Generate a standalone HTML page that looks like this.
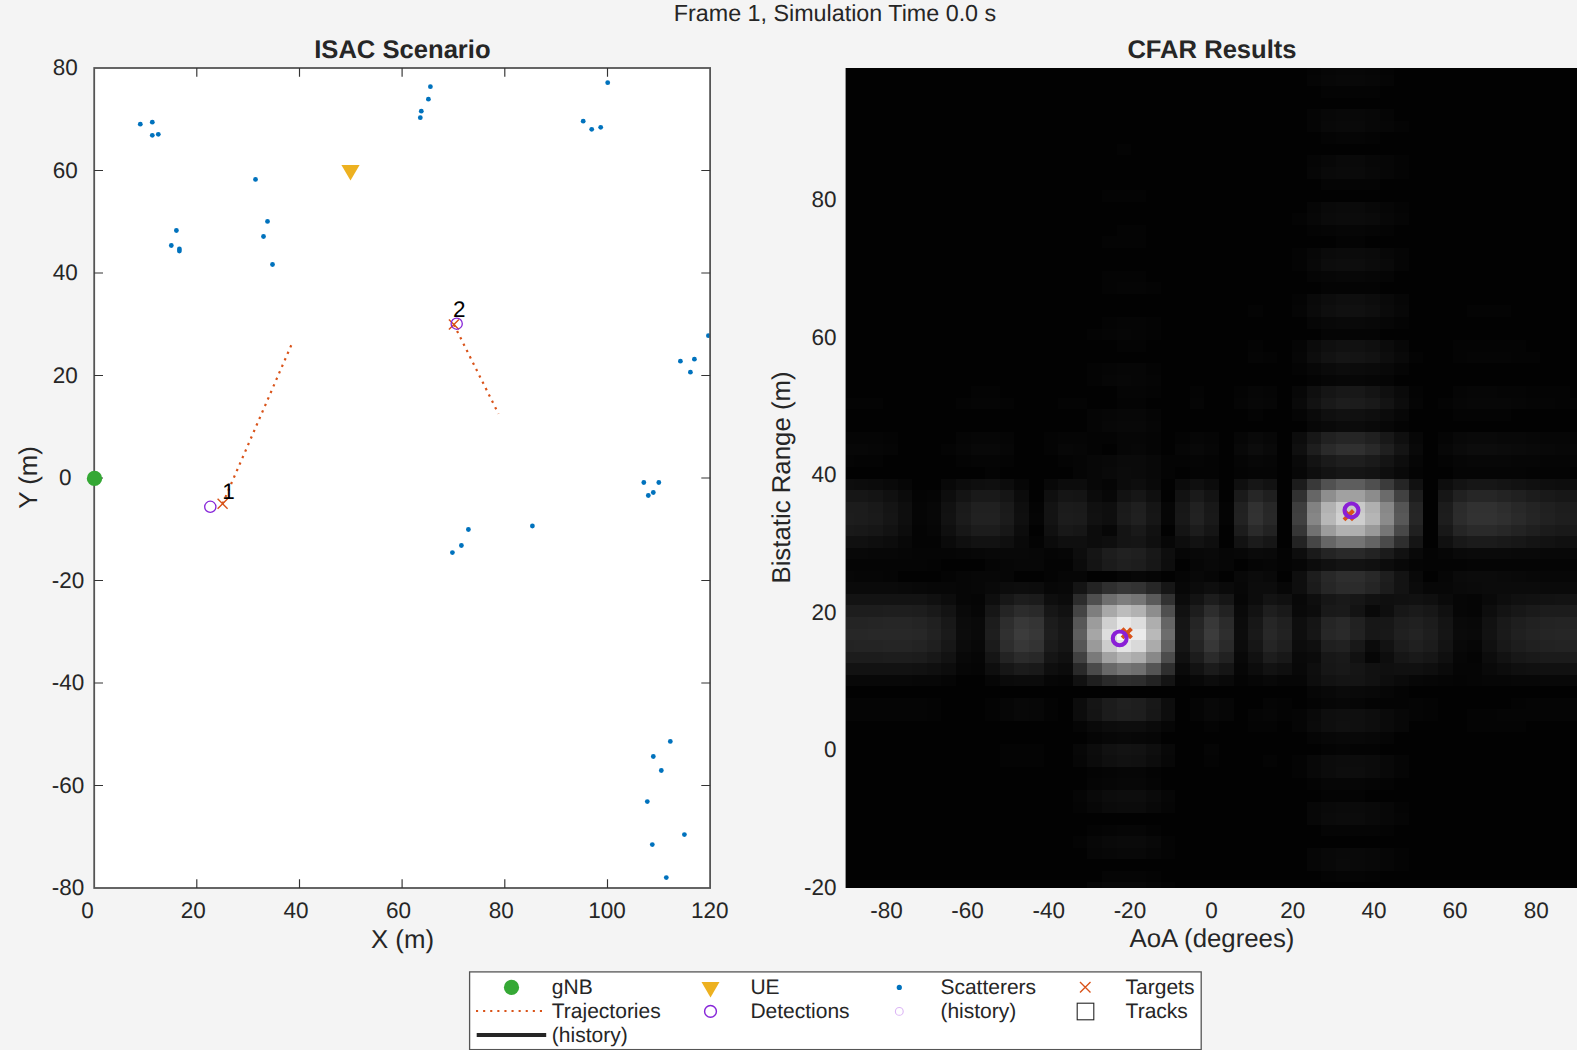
<!DOCTYPE html>
<html lang="en"><head><meta charset="utf-8"><title>ISAC Scenario - CFAR Results</title>
<style>html,body{margin:0;padding:0;background:#f4f4f4;overflow:hidden}svg{display:block}text{font-family:"Liberation Sans",sans-serif;fill:#262626;text-rendering:geometricPrecision}.tk{font-size:22.5px}.lb{font-size:25.8px}.tt{font-size:25.6px;font-weight:bold}.lg{font-size:21px}.sg{font-size:23.3px}.nm{font-size:22.5px;fill:#000}</style></head><body>
<svg width="1577" height="1050" viewBox="0 0 1577 1050">
<rect x="0" y="0" width="1577" height="1050" fill="#f4f4f4"/>
<text class="sg" x="835" y="20.6" text-anchor="middle">Frame 1, Simulation Time 0.0 s</text>
<rect x="94.2" y="68.0" width="615.9" height="820.0" fill="#ffffff"/>
<g fill="#0072bd">
<circle cx="140.3" cy="124.2" r="2.4"/>
<circle cx="152.3" cy="122.2" r="2.4"/>
<circle cx="152.3" cy="135.3" r="2.4"/>
<circle cx="158.3" cy="134.3" r="2.4"/>
<circle cx="176.4" cy="230.5" r="2.4"/>
<circle cx="171.3" cy="245.5" r="2.4"/>
<circle cx="179.4" cy="249.0" r="2.4"/>
<circle cx="179.4" cy="251.0" r="2.4"/>
<circle cx="255.5" cy="179.4" r="2.4"/>
<circle cx="267.5" cy="221.4" r="2.4"/>
<circle cx="263.5" cy="236.5" r="2.4"/>
<circle cx="272.5" cy="264.5" r="2.4"/>
<circle cx="430.4" cy="86.7" r="2.4"/>
<circle cx="428.4" cy="99.2" r="2.4"/>
<circle cx="421.3" cy="111.2" r="2.4"/>
<circle cx="420.3" cy="117.7" r="2.4"/>
<circle cx="607.7" cy="82.7" r="2.4"/>
<circle cx="583.2" cy="121.2" r="2.4"/>
<circle cx="591.7" cy="129.3" r="2.4"/>
<circle cx="600.7" cy="127.3" r="2.4"/>
<circle cx="708.4" cy="335.7" r="2.4"/>
<circle cx="680.4" cy="361.2" r="2.4"/>
<circle cx="694.4" cy="359.2" r="2.4"/>
<circle cx="690.4" cy="372.2" r="2.4"/>
<circle cx="643.8" cy="482.5" r="2.4"/>
<circle cx="658.8" cy="482.5" r="2.4"/>
<circle cx="653.3" cy="492.5" r="2.4"/>
<circle cx="648.3" cy="495.5" r="2.4"/>
<circle cx="532.4" cy="526.0" r="2.4"/>
<circle cx="468.4" cy="529.5" r="2.4"/>
<circle cx="461.4" cy="545.5" r="2.4"/>
<circle cx="452.4" cy="552.6" r="2.4"/>
<circle cx="670.3" cy="741.4" r="2.4"/>
<circle cx="653.3" cy="756.5" r="2.4"/>
<circle cx="661.3" cy="770.5" r="2.4"/>
<circle cx="647.3" cy="801.6" r="2.4"/>
<circle cx="684.4" cy="834.6" r="2.4"/>
<circle cx="652.3" cy="844.6" r="2.4"/>
<circle cx="666.3" cy="877.6" r="2.4"/>
</g>
<g stroke="#d95319" stroke-width="2.2" stroke-dasharray="2.3 4.8" fill="none">
<line x1="222.6" y1="503.7" x2="292.6" y2="342.1"/>
<line x1="453.9" y1="324.6" x2="498.5" y2="413.8"/>
</g>
<polygon points="341.4,165.0 359.6,165.0 350.5,180.5" fill="#edb120"/>
<path d="M217.6 498.7L227.6 508.7M217.6 508.7L227.6 498.7" stroke="#d95319" stroke-width="1.4" fill="none"/>
<path d="M448.9 319.6L458.9 329.6M448.9 329.6L458.9 319.6" stroke="#d95319" stroke-width="1.4" fill="none"/>
<circle cx="210.3" cy="506.8" r="5.6" fill="none" stroke="#8624d8" stroke-width="1.3"/>
<circle cx="456.7" cy="323.7" r="5.6" fill="none" stroke="#8624d8" stroke-width="1.3"/>
<text class="nm" x="222.3" y="498.7">1</text>
<text class="nm" x="453.0" y="317.3">2</text>
<g stroke="#555555" fill="none">
<rect x="94.2" y="68.0" width="615.9" height="820.0" stroke-width="1.8"/>
<path d="M196.8 888.0v-8.8M196.8 68.0v8.8M299.5 888.0v-8.8M299.5 68.0v8.8M402.1 888.0v-8.8M402.1 68.0v8.8M504.8 888.0v-8.8M504.8 68.0v8.8M607.5 888.0v-8.8M607.5 68.0v8.8M94.2 170.5h8.8M710.1 170.5h-8.8M94.2 273.0h8.8M710.1 273.0h-8.8M94.2 375.5h8.8M710.1 375.5h-8.8M94.2 478.0h8.8M710.1 478.0h-8.8M94.2 580.5h8.8M710.1 580.5h-8.8M94.2 683.0h8.8M710.1 683.0h-8.8M94.2 785.5h8.8M710.1 785.5h-8.8" stroke-width="1.15" stroke="#333"/>
</g>
<circle cx="94.5" cy="478.4" r="7.7" fill="#35a835"/>
<text class="tk" x="77.8" y="75.0" text-anchor="end">80</text>
<text class="tk" x="77.8" y="177.5" text-anchor="end">60</text>
<text class="tk" x="77.8" y="280.0" text-anchor="end">40</text>
<text class="tk" x="77.8" y="382.5" text-anchor="end">20</text>
<text class="tk" x="71.4" y="485.0" text-anchor="end">0</text>
<text class="tk" x="84.2" y="587.5" text-anchor="end">-20</text>
<text class="tk" x="84.2" y="690.0" text-anchor="end">-40</text>
<text class="tk" x="84.2" y="792.5" text-anchor="end">-60</text>
<text class="tk" x="84.2" y="895.0" text-anchor="end">-80</text>
<text class="tk" x="87.4" y="917.6" text-anchor="middle">0</text>
<text class="tk" x="193.2" y="917.6" text-anchor="middle">20</text>
<text class="tk" x="295.9" y="917.6" text-anchor="middle">40</text>
<text class="tk" x="398.6" y="917.6" text-anchor="middle">60</text>
<text class="tk" x="501.2" y="917.6" text-anchor="middle">80</text>
<text class="tk" x="607.1" y="917.6" text-anchor="middle">100</text>
<text class="tk" x="709.7" y="917.6" text-anchor="middle">120</text>
<text class="lb" x="402.5" y="947.6" text-anchor="middle">X (m)</text>
<text class="lb" transform="translate(37.3 477.5) rotate(-90)" text-anchor="middle">Y (m)</text>
<text class="tt" x="402.4" y="58.2" text-anchor="middle">ISAC Scenario</text>
<rect x="845.6" y="68.0" width="731.4" height="820.0" fill="#020202"/>
<g shape-rendering="crispEdges">
<path fill="#040404" d="M1160.5 882.3H1175.1V888.0H1160.5zM1145.9 870.7H1160.5V882.3H1145.9zM1321.2 870.7H1335.8V882.3H1321.2zM1365.0 870.7H1379.6V882.3H1365.0zM1394.2 859.2H1408.8V870.7H1394.2zM1160.5 847.7H1175.1V859.2H1160.5zM1394.2 847.7H1408.8V859.2H1394.2zM1072.8 836.1H1087.4V847.7H1072.8zM1160.5 836.1H1175.1V847.7H1160.5zM1087.4 824.6H1102.0V836.1H1087.4zM1145.9 824.6H1160.5V836.1H1145.9zM1379.6 824.6H1394.2V836.1H1379.6zM1072.8 801.5H1087.4V813.1H1072.8zM1394.2 801.5H1408.8V813.1H1394.2zM1321.2 790.0H1365.0V801.5H1321.2zM1306.6 778.4H1321.2V790.0H1306.6zM1379.6 778.4H1394.2V790.0H1379.6zM1087.4 766.9H1102.0V778.4H1087.4zM1145.9 766.9H1160.5V778.4H1145.9zM1291.9 766.9H1306.6V778.4H1291.9zM999.8 755.4H1043.6V766.9H999.8zM1204.3 755.4H1218.9V766.9H1204.3zM1262.7 755.4H1277.3V766.9H1262.7zM1291.9 755.4H1306.6V766.9H1291.9zM999.8 743.8H1043.6V755.4H999.8zM1321.2 743.8H1335.8V755.4H1321.2zM1350.4 743.8H1379.6V755.4H1350.4zM1204.3 720.8H1218.9V732.3H1204.3zM1248.1 720.8H1277.3V732.3H1248.1zM1467.3 720.8H1525.7V732.3H1467.3zM926.7 709.2H941.3V720.8H926.7zM985.2 709.2H999.8V720.8H985.2zM1043.6 709.2H1058.2V720.8H1043.6zM1277.3 709.2H1291.9V720.8H1277.3zM1423.4 709.2H1438.0V720.8H1423.4zM1467.3 709.2H1496.5V720.8H1467.3zM926.7 697.7H941.3V709.2H926.7zM985.2 697.7H999.8V709.2H985.2zM1043.6 697.7H1058.2V709.2H1043.6zM1277.3 697.7H1291.9V709.2H1277.3zM1306.6 697.7H1321.2V709.2H1306.6zM1365.0 697.7H1408.8V709.2H1365.0zM1423.4 697.7H1438.0V709.2H1423.4zM1511.1 697.7H1525.7V709.2H1511.1zM1394.2 686.1H1408.8V697.7H1394.2zM1233.5 674.6H1248.1V686.1H1233.5zM1452.6 674.6H1467.3V686.1H1452.6zM1467.3 651.5H1481.9V663.1H1467.3zM941.3 570.8H955.9V582.3H941.3zM1043.6 570.8H1058.2V582.3H1043.6zM926.7 559.2H941.3V570.8H926.7zM1043.6 559.2H1072.8V570.8H1043.6zM1277.3 559.2H1291.9V570.8H1277.3zM1423.4 559.2H1467.3V570.8H1423.4zM1277.3 547.7H1291.9V559.2H1277.3zM1423.4 547.7H1438.0V559.2H1423.4zM912.1 536.1H941.3V547.7H912.1zM1029.0 536.1H1043.6V547.7H1029.0zM912.1 524.6H926.7V536.1H912.1zM1218.9 513.1H1233.5V524.6H1218.9zM1029.0 501.5H1043.6V513.1H1029.0zM1218.9 501.5H1233.5V513.1H1218.9zM912.1 490.0H926.7V501.5H912.1zM985.2 466.9H999.8V478.5H985.2zM1160.5 466.9H1175.1V478.5H1160.5zM1189.7 466.9H1218.9V478.5H1189.7zM1233.5 466.9H1248.1V478.5H1233.5zM1408.8 466.9H1423.4V478.5H1408.8zM1525.7 466.9H1569.5V478.5H1525.7zM853.7 455.4H882.9V466.9H853.7zM955.9 455.4H970.6V466.9H955.9zM999.8 455.4H1014.4V466.9H999.8zM1058.2 455.4H1072.8V466.9H1058.2zM1160.5 455.4H1189.7V466.9H1160.5zM1204.3 455.4H1218.9V466.9H1204.3zM1438.0 455.4H1452.6V466.9H1438.0zM941.3 443.8H955.9V455.4H941.3zM1043.6 443.8H1058.2V455.4H1043.6zM1087.4 443.8H1102.0V455.4H1087.4zM882.9 432.3H897.5V443.8H882.9zM1043.6 432.3H1058.2V443.8H1043.6zM1087.4 432.3H1116.6V443.8H1087.4zM1175.1 432.3H1189.7V443.8H1175.1zM1394.2 420.8H1408.8V432.3H1394.2zM1248.1 409.2H1262.7V420.8H1248.1zM1452.6 409.2H1511.1V420.8H1452.6zM845.6 397.7H882.9V409.2H845.6zM955.9 397.7H970.6V409.2H955.9zM999.8 397.7H1014.4V409.2H999.8zM1058.2 397.7H1087.4V409.2H1058.2zM1116.6 397.7H1145.9V409.2H1116.6zM1438.0 397.7H1452.6V409.2H1438.0zM1554.9 397.7H1577.0V409.2H1554.9zM970.6 386.2H999.8V397.7H970.6zM1145.9 386.2H1160.5V397.7H1145.9zM1189.7 386.2H1204.3V397.7H1189.7zM1233.5 386.2H1248.1V397.7H1233.5zM1408.8 386.2H1423.4V397.7H1408.8zM1525.7 386.2H1569.5V397.7H1525.7zM1087.4 374.6H1102.0V386.2H1087.4zM1306.6 374.6H1321.2V386.2H1306.6zM1087.4 363.1H1102.0V374.6H1087.4zM1145.9 363.1H1160.5V374.6H1145.9zM1291.9 363.1H1306.6V374.6H1291.9zM1262.7 351.5H1277.3V363.1H1262.7zM1408.8 351.5H1423.4V363.1H1408.8zM1452.6 351.5H1467.3V363.1H1452.6zM1511.1 351.5H1540.3V363.1H1511.1zM1116.6 340.0H1145.9V351.5H1116.6zM1248.1 340.0H1262.7V351.5H1248.1zM1452.6 340.0H1525.7V351.5H1452.6zM1087.4 328.5H1102.0V340.0H1087.4zM1145.9 328.5H1160.5V340.0H1145.9zM1102.0 316.9H1116.6V328.5H1102.0zM1145.9 316.9H1160.5V328.5H1145.9zM1394.2 316.9H1408.8V328.5H1394.2zM1248.1 305.4H1262.7V316.9H1248.1zM1467.3 305.4H1511.1V316.9H1467.3zM1291.9 293.9H1306.6V305.4H1291.9zM1102.0 282.3H1116.6V293.9H1102.0zM1145.9 282.3H1160.5V293.9H1145.9zM1321.2 282.3H1379.6V293.9H1321.2zM1102.0 270.8H1145.9V282.3H1102.0zM1291.9 259.2H1306.6V270.8H1291.9zM1291.9 247.7H1306.6V259.2H1291.9zM1102.0 236.2H1145.9V247.7H1102.0zM1335.8 236.2H1365.0V247.7H1335.8zM1116.6 224.6H1145.9V236.2H1116.6zM1306.6 224.6H1321.2V236.2H1306.6zM1379.6 224.6H1394.2V236.2H1379.6zM1291.9 213.1H1306.6V224.6H1291.9zM1394.2 201.5H1408.8V213.1H1394.2zM1102.0 190.0H1145.9V201.5H1102.0zM1394.2 166.9H1408.8V178.5H1394.2zM1394.2 155.4H1408.8V166.9H1394.2zM1116.6 143.9H1131.3V155.4H1116.6zM1321.2 132.3H1335.8V143.9H1321.2zM1365.0 132.3H1379.6V143.9H1365.0zM1394.2 120.8H1408.8V132.3H1394.2zM1321.2 86.2H1379.6V97.7H1321.2zM1306.6 68.0H1321.2V74.6H1306.6zM1379.6 68.0H1394.2V74.6H1379.6z"/>
<path fill="#050505" d="M1102.0 870.7H1145.9V882.3H1102.0zM1335.8 870.7H1365.0V882.3H1335.8zM1102.0 824.6H1116.6V836.1H1102.0zM1321.2 824.6H1379.6V836.1H1321.2zM1394.2 813.1H1408.8V824.6H1394.2zM1160.5 801.5H1175.1V813.1H1160.5zM1072.8 790.0H1087.4V801.5H1072.8zM1087.4 778.4H1102.0V790.0H1087.4zM1145.9 778.4H1160.5V790.0H1145.9zM1365.0 778.4H1379.6V790.0H1365.0zM1102.0 766.9H1116.6V778.4H1102.0zM1394.2 766.9H1408.8V778.4H1394.2zM1394.2 755.4H1408.8V766.9H1394.2zM1204.3 743.8H1218.9V755.4H1204.3zM1335.8 743.8H1350.4V755.4H1335.8zM1087.4 732.3H1102.0V743.8H1087.4zM1306.6 732.3H1321.2V743.8H1306.6zM1379.6 732.3H1394.2V743.8H1379.6zM1072.8 720.8H1087.4V732.3H1072.8zM1291.9 720.8H1306.6V732.3H1291.9zM845.6 709.2H926.7V720.8H845.6zM1189.7 709.2H1204.3V720.8H1189.7zM1248.1 709.2H1262.7V720.8H1248.1zM1291.9 709.2H1306.6V720.8H1291.9zM1408.8 709.2H1423.4V720.8H1408.8zM1496.5 709.2H1577.0V720.8H1496.5zM845.6 697.7H926.7V709.2H845.6zM1189.7 697.7H1204.3V709.2H1189.7zM1262.7 697.7H1277.3V709.2H1262.7zM1408.8 697.7H1423.4V709.2H1408.8zM1525.7 697.7H1577.0V709.2H1525.7zM941.3 674.6H955.9V686.1H941.3zM1058.2 674.6H1072.8V686.1H1058.2zM1175.1 674.6H1189.7V686.1H1175.1zM1438.0 674.6H1452.6V686.1H1438.0zM1467.3 674.6H1481.9V686.1H1467.3zM970.6 663.1H985.2V674.6H970.6zM1452.6 663.1H1481.9V674.6H1452.6zM1467.3 605.4H1481.9V616.9H1467.3zM970.6 593.8H985.2V605.4H970.6zM1467.3 593.8H1481.9V605.4H1467.3zM882.9 570.8H897.5V582.3H882.9zM1116.6 570.8H1131.3V582.3H1116.6zM1145.9 570.8H1160.5V582.3H1145.9zM1175.1 570.8H1189.7V582.3H1175.1zM845.6 559.2H926.7V570.8H845.6zM985.2 559.2H999.8V570.8H985.2zM1248.1 559.2H1262.7V570.8H1248.1zM1408.8 559.2H1423.4V570.8H1408.8zM1467.3 559.2H1577.0V570.8H1467.3zM912.1 547.7H955.9V559.2H912.1zM1043.6 547.7H1058.2V559.2H1043.6zM912.1 513.1H926.7V524.6H912.1zM1029.0 513.1H1043.6V524.6H1029.0zM912.1 501.5H926.7V513.1H912.1zM926.7 490.0H941.3V501.5H926.7zM1102.0 478.5H1116.6V490.0H1102.0zM1072.8 466.9H1087.4V478.5H1072.8zM1248.1 466.9H1277.3V478.5H1248.1zM1452.6 466.9H1525.7V478.5H1452.6zM845.6 455.4H853.7V466.9H845.6zM970.6 455.4H999.8V466.9H970.6zM1072.8 455.4H1087.4V466.9H1072.8zM1189.7 455.4H1204.3V466.9H1189.7zM1233.5 455.4H1248.1V466.9H1233.5zM1540.3 455.4H1577.0V466.9H1540.3zM882.9 443.8H897.5V455.4H882.9zM1145.9 443.8H1160.5V455.4H1145.9zM845.6 432.3H882.9V443.8H845.6zM955.9 432.3H970.6V443.8H955.9zM999.8 432.3H1014.4V443.8H999.8zM1058.2 432.3H1087.4V443.8H1058.2zM1145.9 432.3H1160.5V443.8H1145.9zM1204.3 432.3H1218.9V443.8H1204.3zM1438.0 432.3H1452.6V443.8H1438.0zM1569.5 432.3H1577.0V443.8H1569.5zM1087.4 420.8H1102.0V432.3H1087.4zM1087.4 409.2H1102.0V420.8H1087.4zM1145.9 409.2H1160.5V420.8H1145.9zM1291.9 409.2H1306.6V420.8H1291.9zM970.6 397.7H999.8V409.2H970.6zM1189.7 397.7H1204.3V409.2H1189.7zM1233.5 397.7H1248.1V409.2H1233.5zM1408.8 397.7H1423.4V409.2H1408.8zM1525.7 397.7H1554.9V409.2H1525.7zM1116.6 386.2H1145.9V397.7H1116.6zM1262.7 386.2H1277.3V397.7H1262.7zM1452.6 386.2H1467.3V397.7H1452.6zM1496.5 386.2H1525.7V397.7H1496.5zM1145.9 374.6H1160.5V386.2H1145.9zM1379.6 374.6H1394.2V386.2H1379.6zM1102.0 363.1H1116.6V374.6H1102.0zM1394.2 363.1H1408.8V374.6H1394.2zM1248.1 351.5H1262.7V363.1H1248.1zM1467.3 351.5H1511.1V363.1H1467.3zM1291.9 340.0H1306.6V351.5H1291.9zM1102.0 328.5H1116.6V340.0H1102.0zM1131.3 328.5H1145.9V340.0H1131.3zM1321.2 328.5H1379.6V340.0H1321.2zM1116.6 316.9H1145.9V328.5H1116.6zM1291.9 305.4H1306.6V316.9H1291.9zM1116.6 282.3H1145.9V293.9H1116.6zM1306.6 270.8H1321.2V282.3H1306.6zM1379.6 270.8H1394.2V282.3H1379.6zM1394.2 259.2H1408.8V270.8H1394.2zM1394.2 247.7H1408.8V259.2H1394.2zM1321.2 224.6H1335.8V236.2H1321.2zM1365.0 224.6H1379.6V236.2H1365.0zM1394.2 213.1H1408.8V224.6H1394.2zM1321.2 178.5H1379.6V190.0H1321.2zM1306.6 155.4H1321.2V166.9H1306.6zM1335.8 132.3H1365.0V143.9H1335.8zM1306.6 120.8H1321.2V132.3H1306.6zM1306.6 109.2H1321.2V120.8H1306.6zM1379.6 109.2H1394.2V120.8H1379.6zM1306.6 74.6H1321.2V86.2H1306.6zM1379.6 74.6H1394.2V86.2H1379.6z"/>
<path fill="#060606" d="M1087.4 882.3H1102.0V888.0H1087.4zM1145.9 882.3H1160.5V888.0H1145.9zM1306.6 859.2H1321.2V870.7H1306.6zM1379.6 859.2H1394.2V870.7H1379.6zM1087.4 847.7H1102.0V859.2H1087.4zM1145.9 847.7H1160.5V859.2H1145.9zM1306.6 847.7H1321.2V859.2H1306.6zM1379.6 847.7H1394.2V859.2H1379.6zM1116.6 824.6H1145.9V836.1H1116.6zM1160.5 790.0H1175.1V801.5H1160.5zM1102.0 778.4H1116.6V790.0H1102.0zM1321.2 778.4H1365.0V790.0H1321.2zM1116.6 766.9H1145.9V778.4H1116.6zM1072.8 755.4H1087.4V766.9H1072.8zM1145.9 732.3H1160.5V743.8H1145.9zM1160.5 720.8H1175.1V732.3H1160.5zM999.8 709.2H1014.4V720.8H999.8zM1218.9 709.2H1233.5V720.8H1218.9zM1262.7 709.2H1277.3V720.8H1262.7zM999.8 697.7H1014.4V709.2H999.8zM1218.9 697.7H1233.5V709.2H1218.9zM1321.2 697.7H1335.8V709.2H1321.2zM1350.4 697.7H1365.0V709.2H1350.4zM1306.6 686.1H1321.2V697.7H1306.6zM1379.6 686.1H1394.2V697.7H1379.6zM985.2 674.6H999.8V686.1H985.2zM1043.6 674.6H1058.2V686.1H1043.6zM1248.1 674.6H1262.7V686.1H1248.1zM1277.3 674.6H1306.6V686.1H1277.3zM1423.4 674.6H1438.0V686.1H1423.4zM1481.9 674.6H1511.1V686.1H1481.9zM955.9 663.1H970.6V674.6H955.9zM1233.5 663.1H1248.1V674.6H1233.5zM970.6 651.5H985.2V663.1H970.6zM1365.0 651.5H1379.6V663.1H1365.0zM1452.6 651.5H1467.3V663.1H1452.6zM1467.3 640.0H1481.9V651.5H1467.3zM970.6 605.4H985.2V616.9H970.6zM1452.6 605.4H1467.3V616.9H1452.6zM955.9 593.8H970.6V605.4H955.9zM1233.5 593.8H1248.1V605.4H1233.5zM1452.6 593.8H1467.3V605.4H1452.6zM955.9 582.3H970.6V593.8H955.9zM853.7 570.8H882.9V582.3H853.7zM955.9 570.8H970.6V582.3H955.9zM999.8 570.8H1014.4V582.3H999.8zM1058.2 570.8H1087.4V582.3H1058.2zM1204.3 570.8H1218.9V582.3H1204.3zM1438.0 570.8H1452.6V582.3H1438.0zM999.8 559.2H1014.4V570.8H999.8zM1189.7 559.2H1204.3V570.8H1189.7zM1218.9 559.2H1233.5V570.8H1218.9zM1262.7 559.2H1277.3V570.8H1262.7zM1291.9 559.2H1306.6V570.8H1291.9zM897.5 547.7H912.1V559.2H897.5zM955.9 547.7H970.6V559.2H955.9zM1058.2 547.7H1072.8V559.2H1058.2zM1175.1 547.7H1189.7V559.2H1175.1zM1218.9 547.7H1233.5V559.2H1218.9zM1438.0 547.7H1452.6V559.2H1438.0zM926.7 524.6H941.3V536.1H926.7zM1160.5 513.1H1175.1V524.6H1160.5zM1160.5 501.5H1175.1V513.1H1160.5zM897.5 478.5H912.1V490.0H897.5zM1014.4 478.5H1029.0V490.0H1014.4zM1262.7 455.4H1277.3V466.9H1262.7zM1408.8 455.4H1423.4V466.9H1408.8zM1452.6 455.4H1467.3V466.9H1452.6zM1511.1 455.4H1540.3V466.9H1511.1zM868.3 443.8H882.9V455.4H868.3zM955.9 443.8H970.6V455.4H955.9zM999.8 443.8H1014.4V455.4H999.8zM1072.8 443.8H1087.4V455.4H1072.8zM1116.6 443.8H1131.3V455.4H1116.6zM1175.1 443.8H1189.7V455.4H1175.1zM1204.3 443.8H1218.9V455.4H1204.3zM970.6 432.3H999.8V443.8H970.6zM1116.6 432.3H1145.9V443.8H1116.6zM1189.7 432.3H1204.3V443.8H1189.7zM1233.5 432.3H1248.1V443.8H1233.5zM1540.3 432.3H1569.5V443.8H1540.3zM1145.9 420.8H1160.5V432.3H1145.9zM1102.0 409.2H1116.6V420.8H1102.0zM1262.7 397.7H1277.3V409.2H1262.7zM1452.6 397.7H1467.3V409.2H1452.6zM1511.1 397.7H1525.7V409.2H1511.1zM1248.1 386.2H1262.7V397.7H1248.1zM1467.3 386.2H1496.5V397.7H1467.3zM1102.0 374.6H1116.6V386.2H1102.0zM1131.3 374.6H1145.9V386.2H1131.3zM1321.2 374.6H1335.8V386.2H1321.2zM1365.0 374.6H1379.6V386.2H1365.0zM1116.6 363.1H1145.9V374.6H1116.6zM1291.9 351.5H1306.6V363.1H1291.9zM1116.6 328.5H1131.3V340.0H1116.6zM1306.6 316.9H1321.2V328.5H1306.6zM1379.6 316.9H1394.2V328.5H1379.6zM1394.2 293.9H1408.8V305.4H1394.2zM1321.2 270.8H1335.8V282.3H1321.2zM1365.0 270.8H1379.6V282.3H1365.0zM1335.8 224.6H1365.0V236.2H1335.8zM1306.6 201.5H1321.2V213.1H1306.6zM1379.6 201.5H1394.2V213.1H1379.6zM1306.6 166.9H1321.2V178.5H1306.6zM1379.6 166.9H1394.2V178.5H1379.6zM1379.6 155.4H1394.2V166.9H1379.6zM1379.6 120.8H1394.2V132.3H1379.6zM1321.2 68.0H1335.8V74.6H1321.2zM1365.0 68.0H1379.6V74.6H1365.0z"/>
<path fill="#070707" d="M1102.0 847.7H1116.6V859.2H1102.0zM1087.4 836.1H1102.0V847.7H1087.4zM1306.6 813.1H1321.2V824.6H1306.6zM1379.6 813.1H1394.2V824.6H1379.6zM1087.4 801.5H1102.0V813.1H1087.4zM1306.6 801.5H1321.2V813.1H1306.6zM1379.6 801.5H1394.2V813.1H1379.6zM1116.6 778.4H1145.9V790.0H1116.6zM1160.5 755.4H1175.1V766.9H1160.5zM1072.8 743.8H1087.4V755.4H1072.8zM1102.0 732.3H1116.6V743.8H1102.0zM1131.3 732.3H1145.9V743.8H1131.3zM1321.2 732.3H1335.8V743.8H1321.2zM1365.0 732.3H1379.6V743.8H1365.0zM1394.2 720.8H1408.8V732.3H1394.2zM1029.0 709.2H1043.6V720.8H1029.0zM1394.2 709.2H1408.8V720.8H1394.2zM1029.0 697.7H1043.6V709.2H1029.0zM1335.8 697.7H1350.4V709.2H1335.8zM912.1 674.6H941.3V686.1H912.1zM1408.8 674.6H1423.4V686.1H1408.8zM1511.1 674.6H1540.3V686.1H1511.1zM926.7 582.3H955.9V593.8H926.7zM970.6 582.3H985.2V593.8H970.6zM1043.6 582.3H1058.2V593.8H1043.6zM1175.1 582.3H1189.7V593.8H1175.1zM1233.5 582.3H1248.1V593.8H1233.5zM1277.3 582.3H1291.9V593.8H1277.3zM1423.4 582.3H1452.6V593.8H1423.4zM845.6 570.8H853.7V582.3H845.6zM970.6 570.8H999.8V582.3H970.6zM1131.3 570.8H1145.9V582.3H1131.3zM1540.3 570.8H1577.0V582.3H1540.3zM1014.4 559.2H1043.6V570.8H1014.4zM868.3 547.7H897.5V559.2H868.3zM970.6 547.7H985.2V559.2H970.6zM1029.0 547.7H1043.6V559.2H1029.0zM1233.5 547.7H1248.1V559.2H1233.5zM1160.5 536.1H1175.1V547.7H1160.5zM1102.0 524.6H1116.6V536.1H1102.0zM926.7 513.1H941.3V524.6H926.7zM926.7 501.5H941.3V513.1H926.7zM1102.0 490.0H1116.6V501.5H1102.0zM1087.4 478.5H1102.0V490.0H1087.4zM1087.4 466.9H1102.0V478.5H1087.4zM1291.9 466.9H1306.6V478.5H1291.9zM1087.4 455.4H1102.0V466.9H1087.4zM1248.1 455.4H1262.7V466.9H1248.1zM1467.3 455.4H1511.1V466.9H1467.3zM845.6 443.8H868.3V455.4H845.6zM1058.2 443.8H1072.8V455.4H1058.2zM1131.3 443.8H1145.9V455.4H1131.3zM1438.0 443.8H1452.6V455.4H1438.0zM1554.9 443.8H1577.0V455.4H1554.9zM1262.7 432.3H1277.3V443.8H1262.7zM1408.8 432.3H1423.4V443.8H1408.8zM1525.7 432.3H1540.3V443.8H1525.7zM1102.0 420.8H1116.6V432.3H1102.0zM1306.6 420.8H1321.2V432.3H1306.6zM1379.6 420.8H1394.2V432.3H1379.6zM1116.6 409.2H1145.9V420.8H1116.6zM1394.2 409.2H1408.8V420.8H1394.2zM1248.1 397.7H1262.7V409.2H1248.1zM1467.3 397.7H1511.1V409.2H1467.3zM1291.9 386.2H1306.6V397.7H1291.9zM1116.6 374.6H1131.3V386.2H1116.6zM1335.8 374.6H1365.0V386.2H1335.8zM1306.6 363.1H1321.2V374.6H1306.6zM1394.2 340.0H1408.8V351.5H1394.2zM1394.2 305.4H1408.8V316.9H1394.2zM1335.8 270.8H1365.0V282.3H1335.8zM1306.6 247.7H1321.2V259.2H1306.6zM1379.6 247.7H1394.2V259.2H1379.6zM1306.6 213.1H1321.2V224.6H1306.6zM1379.6 213.1H1394.2V224.6H1379.6zM1321.2 155.4H1335.8V166.9H1321.2zM1365.0 155.4H1379.6V166.9H1365.0zM1365.0 120.8H1379.6V132.3H1365.0zM1321.2 109.2H1335.8V120.8H1321.2zM1365.0 109.2H1379.6V120.8H1365.0zM1321.2 74.6H1335.8V86.2H1321.2zM1365.0 74.6H1379.6V86.2H1365.0zM1335.8 68.0H1365.0V74.6H1335.8z"/>
<path fill="#080808" d="M1102.0 882.3H1145.9V888.0H1102.0zM1321.2 859.2H1335.8V870.7H1321.2zM1365.0 859.2H1379.6V870.7H1365.0zM1116.6 847.7H1145.9V859.2H1116.6zM1321.2 847.7H1335.8V859.2H1321.2zM1365.0 847.7H1379.6V859.2H1365.0zM1145.9 836.1H1160.5V847.7H1145.9zM1145.9 801.5H1160.5V813.1H1145.9zM1306.6 766.9H1321.2V778.4H1306.6zM1379.6 766.9H1394.2V778.4H1379.6zM1306.6 755.4H1321.2V766.9H1306.6zM1379.6 755.4H1394.2V766.9H1379.6zM1160.5 743.8H1175.1V755.4H1160.5zM1116.6 732.3H1131.3V743.8H1116.6zM1335.8 732.3H1365.0V743.8H1335.8zM1014.4 709.2H1029.0V720.8H1014.4zM1204.3 709.2H1218.9V720.8H1204.3zM1014.4 697.7H1029.0V709.2H1014.4zM1204.3 697.7H1218.9V709.2H1204.3zM1321.2 686.1H1335.8V697.7H1321.2zM1365.0 686.1H1379.6V697.7H1365.0zM845.6 674.6H912.1V686.1H845.6zM1189.7 674.6H1204.3V686.1H1189.7zM1262.7 674.6H1277.3V686.1H1262.7zM1540.3 674.6H1577.0V686.1H1540.3zM1291.9 663.1H1306.6V674.6H1291.9zM955.9 651.5H970.6V663.1H955.9zM1233.5 651.5H1248.1V663.1H1233.5zM970.6 640.0H985.2V651.5H970.6zM1452.6 640.0H1467.3V651.5H1452.6zM1467.3 616.9H1481.9V628.5H1467.3zM1291.9 593.8H1306.6V605.4H1291.9zM912.1 582.3H926.7V593.8H912.1zM1058.2 582.3H1072.8V593.8H1058.2zM1189.7 570.8H1204.3V582.3H1189.7zM1233.5 570.8H1248.1V582.3H1233.5zM1525.7 570.8H1540.3V582.3H1525.7zM1204.3 559.2H1218.9V570.8H1204.3zM1394.2 559.2H1408.8V570.8H1394.2zM845.6 547.7H868.3V559.2H845.6zM985.2 547.7H1029.0V559.2H985.2zM1189.7 547.7H1204.3V559.2H1189.7zM1540.3 547.7H1577.0V559.2H1540.3zM897.5 536.1H912.1V547.7H897.5zM941.3 478.5H955.9V490.0H941.3zM1043.6 478.5H1058.2V490.0H1043.6zM1145.9 466.9H1160.5V478.5H1145.9zM1102.0 455.4H1116.6V466.9H1102.0zM1145.9 455.4H1160.5V466.9H1145.9zM970.6 443.8H999.8V455.4H970.6zM1189.7 443.8H1204.3V455.4H1189.7zM1233.5 443.8H1248.1V455.4H1233.5zM1540.3 443.8H1554.9V455.4H1540.3zM1452.6 432.3H1467.3V443.8H1452.6zM1496.5 432.3H1525.7V443.8H1496.5zM1116.6 420.8H1145.9V432.3H1116.6zM1379.6 363.1H1394.2V374.6H1379.6zM1321.2 316.9H1335.8V328.5H1321.2zM1365.0 316.9H1379.6V328.5H1365.0zM1306.6 259.2H1321.2V270.8H1306.6zM1365.0 201.5H1379.6V213.1H1365.0zM1365.0 166.9H1379.6V178.5H1365.0zM1321.2 120.8H1335.8V132.3H1321.2zM1335.8 109.2H1365.0V120.8H1335.8zM1335.8 74.6H1365.0V86.2H1335.8z"/>
<path fill="#090909" d="M1350.4 859.2H1365.0V870.7H1350.4zM1335.8 847.7H1365.0V859.2H1335.8zM1102.0 836.1H1116.6V847.7H1102.0zM1365.0 813.1H1379.6V824.6H1365.0zM1321.2 801.5H1335.8V813.1H1321.2zM1365.0 801.5H1379.6V813.1H1365.0zM1087.4 790.0H1102.0V801.5H1087.4zM1087.4 720.8H1102.0V732.3H1087.4zM1306.6 709.2H1321.2V720.8H1306.6zM1350.4 686.1H1365.0V697.7H1350.4zM1218.9 674.6H1233.5V686.1H1218.9zM1481.9 663.1H1496.5V674.6H1481.9zM1291.9 651.5H1306.6V663.1H1291.9zM970.6 628.5H985.2V640.0H970.6zM1467.3 628.5H1481.9V640.0H1467.3zM970.6 616.9H985.2V628.5H970.6zM1452.6 616.9H1467.3V628.5H1452.6zM955.9 605.4H970.6V616.9H955.9zM1233.5 605.4H1248.1V616.9H1233.5zM1291.9 605.4H1306.6V616.9H1291.9zM1365.0 605.4H1379.6V616.9H1365.0zM1481.9 593.8H1496.5V605.4H1481.9zM897.5 582.3H912.1V593.8H897.5zM985.2 582.3H999.8V593.8H985.2zM1452.6 582.3H1467.3V593.8H1452.6zM1262.7 570.8H1277.3V582.3H1262.7zM1408.8 570.8H1423.4V582.3H1408.8zM1511.1 570.8H1525.7V582.3H1511.1zM1204.3 547.7H1218.9V559.2H1204.3zM1262.7 547.7H1277.3V559.2H1262.7zM1408.8 547.7H1423.4V559.2H1408.8zM1452.6 547.7H1467.3V559.2H1452.6zM1511.1 547.7H1540.3V559.2H1511.1zM1014.4 536.1H1029.0V547.7H1014.4zM882.9 478.5H897.5V490.0H882.9zM1145.9 478.5H1160.5V490.0H1145.9zM1102.0 466.9H1116.6V478.5H1102.0zM1394.2 466.9H1408.8V478.5H1394.2zM1291.9 455.4H1306.6V466.9H1291.9zM1262.7 443.8H1277.3V455.4H1262.7zM1408.8 443.8H1423.4V455.4H1408.8zM1525.7 443.8H1540.3V455.4H1525.7zM1248.1 432.3H1262.7V443.8H1248.1zM1467.3 432.3H1496.5V443.8H1467.3zM1321.2 420.8H1335.8V432.3H1321.2zM1365.0 420.8H1379.6V432.3H1365.0zM1291.9 397.7H1306.6V409.2H1291.9zM1394.2 351.5H1408.8V363.1H1394.2zM1335.8 316.9H1365.0V328.5H1335.8zM1306.6 293.9H1321.2V305.4H1306.6zM1379.6 293.9H1394.2V305.4H1379.6zM1379.6 259.2H1394.2V270.8H1379.6zM1321.2 201.5H1335.8V213.1H1321.2zM1321.2 166.9H1335.8V178.5H1321.2zM1335.8 155.4H1365.0V166.9H1335.8zM1335.8 120.8H1365.0V132.3H1335.8z"/>
<path fill="#0a0a0a" d="M1335.8 859.2H1350.4V870.7H1335.8zM1116.6 836.1H1145.9V847.7H1116.6zM1321.2 813.1H1335.8V824.6H1321.2zM1102.0 801.5H1116.6V813.1H1102.0zM1335.8 801.5H1365.0V813.1H1335.8zM1145.9 790.0H1160.5V801.5H1145.9zM1145.9 720.8H1160.5V732.3H1145.9zM1306.6 720.8H1321.2V732.3H1306.6zM1379.6 720.8H1394.2V732.3H1379.6zM1379.6 709.2H1394.2V720.8H1379.6zM1335.8 686.1H1350.4V697.7H1335.8zM999.8 674.6H1014.4V686.1H999.8zM1394.2 674.6H1408.8V686.1H1394.2zM1175.1 663.1H1189.7V674.6H1175.1zM1438.0 663.1H1452.6V674.6H1438.0zM1452.6 628.5H1467.3V640.0H1452.6zM1438.0 593.8H1452.6V605.4H1438.0zM845.6 582.3H897.5V593.8H845.6zM1218.9 582.3H1233.5V593.8H1218.9zM1467.3 582.3H1481.9V593.8H1467.3zM1540.3 582.3H1577.0V593.8H1540.3zM1452.6 570.8H1467.3V582.3H1452.6zM1496.5 570.8H1511.1V582.3H1496.5zM1248.1 547.7H1262.7V559.2H1248.1zM1467.3 547.7H1511.1V559.2H1467.3zM941.3 536.1H955.9V547.7H941.3zM1131.3 466.9H1145.9V478.5H1131.3zM1116.6 455.4H1145.9V466.9H1116.6zM1452.6 443.8H1467.3V455.4H1452.6zM1511.1 443.8H1525.7V455.4H1511.1zM1306.6 409.2H1321.2V420.8H1306.6zM1394.2 386.2H1408.8V397.7H1394.2zM1321.2 363.1H1335.8V374.6H1321.2zM1365.0 363.1H1379.6V374.6H1365.0zM1306.6 305.4H1321.2V316.9H1306.6zM1379.6 305.4H1394.2V316.9H1379.6zM1321.2 247.7H1335.8V259.2H1321.2zM1365.0 247.7H1379.6V259.2H1365.0zM1321.2 213.1H1335.8V224.6H1321.2zM1365.0 213.1H1379.6V224.6H1365.0zM1335.8 201.5H1365.0V213.1H1335.8zM1335.8 166.9H1365.0V178.5H1335.8z"/>
<path fill="#0b0b0b" d="M1335.8 813.1H1365.0V824.6H1335.8zM1116.6 801.5H1145.9V813.1H1116.6zM1321.2 766.9H1335.8V778.4H1321.2zM1365.0 766.9H1379.6V778.4H1365.0zM1087.4 755.4H1102.0V766.9H1087.4zM1321.2 755.4H1335.8V766.9H1321.2zM1365.0 755.4H1379.6V766.9H1365.0zM1014.4 674.6H1043.6V686.1H1014.4zM1058.2 663.1H1072.8V674.6H1058.2zM1306.6 651.5H1321.2V663.1H1306.6zM955.9 640.0H970.6V651.5H955.9zM1233.5 640.0H1248.1V651.5H1233.5zM1365.0 640.0H1379.6V651.5H1365.0zM955.9 616.9H970.6V628.5H955.9zM1233.5 616.9H1248.1V628.5H1233.5zM1058.2 593.8H1072.8V605.4H1058.2zM1175.1 593.8H1189.7V605.4H1175.1zM1189.7 582.3H1204.3V593.8H1189.7zM1408.8 582.3H1423.4V593.8H1408.8zM1481.9 582.3H1540.3V593.8H1481.9zM1248.1 570.8H1262.7V582.3H1248.1zM1467.3 570.8H1496.5V582.3H1467.3zM1072.8 559.2H1087.4V570.8H1072.8zM1043.6 536.1H1058.2V547.7H1043.6zM897.5 490.0H912.1V501.5H897.5zM1014.4 490.0H1029.0V501.5H1014.4zM1087.4 490.0H1102.0V501.5H1087.4zM868.3 478.5H882.9V490.0H868.3zM1116.6 478.5H1131.3V490.0H1116.6zM1175.1 478.5H1189.7V490.0H1175.1zM1204.3 478.5H1218.9V490.0H1204.3zM1116.6 466.9H1131.3V478.5H1116.6zM1496.5 443.8H1511.1V455.4H1496.5zM1335.8 420.8H1365.0V432.3H1335.8zM1379.6 409.2H1394.2V420.8H1379.6zM1350.4 363.1H1365.0V374.6H1350.4zM1306.6 340.0H1321.2V351.5H1306.6zM1379.6 340.0H1394.2V351.5H1379.6zM1365.0 259.2H1379.6V270.8H1365.0zM1335.8 247.7H1365.0V259.2H1335.8zM1335.8 213.1H1365.0V224.6H1335.8z"/>
<path fill="#0c0c0c" d="M1102.0 790.0H1116.6V801.5H1102.0zM1145.9 755.4H1160.5V766.9H1145.9zM1335.8 755.4H1365.0V766.9H1335.8zM1087.4 743.8H1102.0V755.4H1087.4zM1102.0 720.8H1116.6V732.3H1102.0zM1072.8 709.2H1087.4V720.8H1072.8zM1072.8 697.7H1087.4V709.2H1072.8zM1204.3 674.6H1218.9V686.1H1204.3zM941.3 663.1H955.9V674.6H941.3zM1248.1 663.1H1262.7V674.6H1248.1zM1496.5 663.1H1511.1V674.6H1496.5zM1481.9 651.5H1496.5V663.1H1481.9zM1291.9 640.0H1306.6V651.5H1291.9zM955.9 628.5H970.6V640.0H955.9zM1233.5 628.5H1248.1V640.0H1233.5zM1306.6 605.4H1321.2V616.9H1306.6zM941.3 593.8H955.9V605.4H941.3zM1248.1 593.8H1262.7V605.4H1248.1zM999.8 582.3H1014.4V593.8H999.8zM1029.0 582.3H1043.6V593.8H1029.0zM1248.1 582.3H1277.3V593.8H1248.1zM1306.6 559.2H1321.2V570.8H1306.6zM1379.6 559.2H1394.2V570.8H1379.6zM882.9 536.1H897.5V547.7H882.9zM1087.4 536.1H1102.0V547.7H1087.4zM897.5 524.6H912.1V536.1H897.5zM1014.4 524.6H1029.0V536.1H1014.4zM1087.4 524.6H1102.0V536.1H1087.4zM853.7 478.5H868.3V490.0H853.7zM955.9 478.5H970.6V490.0H955.9zM999.8 478.5H1014.4V490.0H999.8zM1058.2 478.5H1087.4V490.0H1058.2zM1248.1 443.8H1262.7V455.4H1248.1zM1467.3 443.8H1496.5V455.4H1467.3zM1291.9 432.3H1306.6V443.8H1291.9zM1394.2 397.7H1408.8V409.2H1394.2zM1335.8 363.1H1350.4V374.6H1335.8zM1321.2 293.9H1335.8V305.4H1321.2zM1365.0 293.9H1379.6V305.4H1365.0zM1321.2 259.2H1335.8V270.8H1321.2z"/>
<path fill="#0d0d0d" d="M1116.6 790.0H1145.9V801.5H1116.6zM1335.8 766.9H1365.0V778.4H1335.8zM1116.6 720.8H1145.9V732.3H1116.6zM1365.0 720.8H1379.6V732.3H1365.0zM1160.5 709.2H1175.1V720.8H1160.5zM1365.0 709.2H1379.6V720.8H1365.0zM1160.5 697.7H1175.1V709.2H1160.5zM1306.6 674.6H1321.2V686.1H1306.6zM1379.6 674.6H1394.2V686.1H1379.6zM1379.6 651.5H1394.2V663.1H1379.6zM1481.9 605.4H1496.5V616.9H1481.9zM1496.5 593.8H1511.1V605.4H1496.5zM1014.4 582.3H1029.0V593.8H1014.4zM1160.5 559.2H1175.1V570.8H1160.5zM1072.8 547.7H1087.4V559.2H1072.8zM1291.9 547.7H1306.6V559.2H1291.9zM1175.1 536.1H1189.7V547.7H1175.1zM941.3 490.0H955.9V501.5H941.3zM845.6 478.5H853.7V490.0H845.6zM1131.3 478.5H1145.9V490.0H1131.3zM1438.0 478.5H1452.6V490.0H1438.0zM1554.9 478.5H1577.0V490.0H1554.9zM1394.2 455.4H1408.8V466.9H1394.2zM1306.6 351.5H1321.2V363.1H1306.6zM1379.6 351.5H1394.2V363.1H1379.6zM1335.8 259.2H1365.0V270.8H1335.8z"/>
<path fill="#0e0e0e" d="M1145.9 743.8H1160.5V755.4H1145.9zM1321.2 720.8H1335.8V732.3H1321.2zM1321.2 709.2H1335.8V720.8H1321.2zM985.2 663.1H999.8V674.6H985.2zM1043.6 663.1H1058.2V674.6H1043.6zM1306.6 663.1H1321.2V674.6H1306.6zM1423.4 663.1H1438.0V674.6H1423.4zM1291.9 628.5H1306.6V640.0H1291.9zM1291.9 616.9H1306.6V628.5H1291.9zM1379.6 605.4H1394.2V616.9H1379.6zM985.2 593.8H999.8V605.4H985.2zM1043.6 593.8H1058.2V605.4H1043.6zM1306.6 593.8H1321.2V605.4H1306.6zM1204.3 582.3H1218.9V593.8H1204.3zM1291.9 582.3H1306.6V593.8H1291.9zM1291.9 570.8H1306.6V582.3H1291.9zM1160.5 547.7H1175.1V559.2H1160.5zM868.3 536.1H882.9V547.7H868.3zM1102.0 536.1H1116.6V547.7H1102.0zM1204.3 536.1H1218.9V547.7H1204.3zM897.5 513.1H912.1V524.6H897.5zM1102.0 513.1H1116.6V524.6H1102.0zM897.5 501.5H912.1V513.1H897.5zM1014.4 501.5H1029.0V513.1H1014.4zM1102.0 501.5H1116.6V513.1H1102.0zM970.6 478.5H985.2V490.0H970.6zM1540.3 478.5H1554.9V490.0H1540.3zM1306.6 466.9H1321.2V478.5H1306.6zM1379.6 466.9H1394.2V478.5H1379.6zM1365.0 409.2H1379.6V420.8H1365.0zM1321.2 305.4H1335.8V316.9H1321.2zM1365.0 305.4H1379.6V316.9H1365.0zM1335.8 293.9H1365.0V305.4H1335.8z"/>
<path fill="#0f0f0f" d="M1102.0 755.4H1116.6V766.9H1102.0zM1350.4 720.8H1365.0V732.3H1350.4zM1335.8 709.2H1365.0V720.8H1335.8zM926.7 663.1H941.3V674.6H926.7zM1277.3 663.1H1291.9V674.6H1277.3zM1379.6 663.1H1394.2V674.6H1379.6zM1511.1 663.1H1525.7V674.6H1511.1zM1438.0 651.5H1452.6V663.1H1438.0zM1306.6 640.0H1321.2V651.5H1306.6zM1379.6 593.8H1394.2V605.4H1379.6zM1423.4 593.8H1438.0V605.4H1423.4zM955.9 536.1H970.6V547.7H955.9zM999.8 536.1H1014.4V547.7H999.8zM1058.2 536.1H1087.4V547.7H1058.2zM1145.9 536.1H1160.5V547.7H1145.9zM941.3 524.6H955.9V536.1H941.3zM1014.4 513.1H1029.0V524.6H1014.4zM1043.6 490.0H1058.2V501.5H1043.6zM1145.9 490.0H1160.5V501.5H1145.9zM985.2 478.5H999.8V490.0H985.2zM1189.7 478.5H1204.3V490.0H1189.7zM1233.5 478.5H1248.1V490.0H1233.5zM1291.9 443.8H1306.6V455.4H1291.9zM1394.2 432.3H1408.8V443.8H1394.2zM1321.2 409.2H1335.8V420.8H1321.2zM1306.6 386.2H1321.2V397.7H1306.6zM1379.6 386.2H1394.2V397.7H1379.6zM1321.2 340.0H1335.8V351.5H1321.2zM1365.0 340.0H1379.6V351.5H1365.0z"/>
<path fill="#101010" d="M1131.3 755.4H1145.9V766.9H1131.3zM1335.8 720.8H1350.4V732.3H1335.8zM1394.2 663.1H1423.4V674.6H1394.2zM1525.7 663.1H1540.3V674.6H1525.7zM1058.2 651.5H1072.8V663.1H1058.2zM1175.1 651.5H1189.7V663.1H1175.1zM1481.9 640.0H1496.5V651.5H1481.9zM1438.0 605.4H1452.6V616.9H1438.0zM926.7 593.8H941.3V605.4H926.7zM1277.3 593.8H1291.9V605.4H1277.3zM1394.2 593.8H1408.8V605.4H1394.2zM1511.1 593.8H1525.7V605.4H1511.1zM1321.2 559.2H1335.8V570.8H1321.2zM1365.0 559.2H1379.6V570.8H1365.0zM845.6 536.1H868.3V547.7H845.6zM1438.0 536.1H1452.6V547.7H1438.0zM1554.9 536.1H1577.0V547.7H1554.9zM1043.6 524.6H1058.2V536.1H1043.6zM1087.4 501.5H1102.0V513.1H1087.4zM882.9 490.0H897.5V501.5H882.9zM1525.7 478.5H1540.3V490.0H1525.7zM1350.4 409.2H1365.0V420.8H1350.4zM1335.8 305.4H1365.0V316.9H1335.8z"/>
<path fill="#111111" d="M1116.6 755.4H1131.3V766.9H1116.6zM1102.0 743.8H1116.6V755.4H1102.0zM1072.8 674.6H1087.4V686.1H1072.8zM1365.0 674.6H1379.6V686.1H1365.0zM912.1 663.1H926.7V674.6H912.1zM1365.0 663.1H1379.6V674.6H1365.0zM1540.3 663.1H1569.5V674.6H1540.3zM1248.1 651.5H1262.7V663.1H1248.1zM1350.4 651.5H1365.0V663.1H1350.4zM1481.9 616.9H1496.5V628.5H1481.9zM1058.2 605.4H1072.8V616.9H1058.2zM1175.1 605.4H1189.7V616.9H1175.1zM1365.0 593.8H1379.6V605.4H1365.0zM1408.8 593.8H1423.4V605.4H1408.8zM1525.7 593.8H1540.3V605.4H1525.7zM1394.2 547.7H1408.8V559.2H1394.2zM1145.9 524.6H1160.5V536.1H1145.9zM1087.4 513.1H1102.0V524.6H1087.4zM941.3 501.5H955.9V513.1H941.3zM1408.8 478.5H1423.4V490.0H1408.8zM1335.8 409.2H1350.4V420.8H1335.8zM1335.8 340.0H1365.0V351.5H1335.8z"/>
<path fill="#121212" d="M1131.3 743.8H1145.9V755.4H1131.3zM1321.2 674.6H1335.8V686.1H1321.2zM845.6 663.1H912.1V674.6H845.6zM1189.7 663.1H1204.3V674.6H1189.7zM1262.7 663.1H1277.3V674.6H1262.7zM1569.5 663.1H1577.0V674.6H1569.5zM941.3 651.5H955.9V663.1H941.3zM1496.5 651.5H1511.1V663.1H1496.5zM1379.6 640.0H1394.2V651.5H1379.6zM1481.9 628.5H1496.5V640.0H1481.9zM1248.1 605.4H1262.7V616.9H1248.1zM1540.3 593.8H1554.9V605.4H1540.3zM1350.4 559.2H1365.0V570.8H1350.4zM970.6 536.1H999.8V547.7H970.6zM1189.7 536.1H1204.3V547.7H1189.7zM1233.5 536.1H1248.1V547.7H1233.5zM1540.3 536.1H1554.9V547.7H1540.3zM882.9 524.6H897.5V536.1H882.9zM941.3 513.1H955.9V524.6H941.3zM1116.6 490.0H1131.3V501.5H1116.6zM1175.1 490.0H1189.7V501.5H1175.1zM1262.7 478.5H1277.3V490.0H1262.7zM1511.1 478.5H1525.7V490.0H1511.1zM1306.6 397.7H1321.2V409.2H1306.6zM1321.2 351.5H1335.8V363.1H1321.2zM1365.0 351.5H1379.6V363.1H1365.0z"/>
<path fill="#131313" d="M1116.6 743.8H1131.3V755.4H1116.6zM1438.0 640.0H1452.6V651.5H1438.0zM941.3 605.4H955.9V616.9H941.3zM1350.4 605.4H1365.0V616.9H1350.4zM1496.5 605.4H1511.1V616.9H1496.5zM845.6 593.8H926.7V605.4H845.6zM1189.7 593.8H1204.3V605.4H1189.7zM1262.7 593.8H1277.3V605.4H1262.7zM1554.9 593.8H1577.0V605.4H1554.9zM1394.2 582.3H1408.8V593.8H1394.2zM1394.2 570.8H1408.8V582.3H1394.2zM1335.8 559.2H1350.4V570.8H1335.8zM1043.6 513.1H1058.2V524.6H1043.6zM1043.6 501.5H1058.2V513.1H1043.6zM1204.3 490.0H1218.9V501.5H1204.3zM1452.6 478.5H1467.3V490.0H1452.6zM1321.2 466.9H1335.8V478.5H1321.2zM1365.0 466.9H1379.6V478.5H1365.0zM1306.6 455.4H1321.2V466.9H1306.6zM1379.6 397.7H1394.2V409.2H1379.6z"/>
<path fill="#141414" d="M1087.4 709.2H1102.0V720.8H1087.4zM1160.5 674.6H1175.1V686.1H1160.5zM1335.8 674.6H1365.0V686.1H1335.8zM1438.0 616.9H1452.6V628.5H1438.0zM1072.8 582.3H1087.4V593.8H1072.8zM1087.4 559.2H1102.0V570.8H1087.4zM1116.6 536.1H1131.3V547.7H1116.6zM1525.7 536.1H1540.3V547.7H1525.7zM1116.6 524.6H1131.3V536.1H1116.6zM1175.1 524.6H1189.7V536.1H1175.1zM882.9 501.5H897.5V513.1H882.9zM868.3 490.0H882.9V501.5H868.3zM955.9 490.0H970.6V501.5H955.9zM1072.8 490.0H1087.4V501.5H1072.8zM1496.5 478.5H1511.1V490.0H1496.5zM1379.6 455.4H1394.2V466.9H1379.6zM1394.2 443.8H1408.8V455.4H1394.2zM1365.0 386.2H1379.6V397.7H1365.0zM1350.4 351.5H1365.0V363.1H1350.4z"/>
<path fill="#151515" d="M1087.4 697.7H1102.0V709.2H1087.4zM1218.9 663.1H1233.5V674.6H1218.9zM1350.4 663.1H1365.0V674.6H1350.4zM985.2 651.5H999.8V663.1H985.2zM1043.6 651.5H1058.2V663.1H1043.6zM1058.2 640.0H1072.8V651.5H1058.2zM1175.1 640.0H1189.7V651.5H1175.1zM1438.0 628.5H1452.6V640.0H1438.0zM1175.1 616.9H1189.7V628.5H1175.1zM1306.6 616.9H1321.2V628.5H1306.6zM1087.4 547.7H1102.0V559.2H1087.4zM1131.3 536.1H1145.9V547.7H1131.3zM1408.8 536.1H1423.4V547.7H1408.8zM1204.3 524.6H1218.9V536.1H1204.3zM882.9 513.1H897.5V524.6H882.9zM1145.9 501.5H1160.5V513.1H1145.9zM999.8 490.0H1014.4V501.5H999.8zM1058.2 490.0H1072.8V501.5H1058.2zM1350.4 466.9H1365.0V478.5H1350.4zM1321.2 386.2H1335.8V397.7H1321.2zM1335.8 351.5H1350.4V363.1H1335.8z"/>
<path fill="#161616" d="M999.8 663.1H1014.4V674.6H999.8zM1321.2 663.1H1335.8V674.6H1321.2zM1394.2 651.5H1408.8V663.1H1394.2zM1423.4 651.5H1438.0V663.1H1423.4zM1248.1 640.0H1262.7V651.5H1248.1zM1175.1 628.5H1189.7V640.0H1175.1zM1306.6 628.5H1321.2V640.0H1306.6zM1058.2 616.9H1072.8V628.5H1058.2zM985.2 605.4H999.8V616.9H985.2zM1043.6 605.4H1058.2V616.9H1043.6zM1218.9 593.8H1233.5V605.4H1218.9zM1321.2 593.8H1335.8V605.4H1321.2zM1350.4 593.8H1365.0V605.4H1350.4zM1160.5 582.3H1175.1V593.8H1160.5zM1262.7 536.1H1277.3V547.7H1262.7zM868.3 524.6H882.9V536.1H868.3zM1072.8 524.6H1087.4V536.1H1072.8zM1145.9 513.1H1160.5V524.6H1145.9zM845.6 490.0H868.3V501.5H845.6zM1131.3 490.0H1145.9V501.5H1131.3zM1438.0 490.0H1452.6V501.5H1438.0zM1569.5 490.0H1577.0V501.5H1569.5zM1248.1 478.5H1262.7V490.0H1248.1zM1467.3 478.5H1496.5V490.0H1467.3zM1335.8 466.9H1350.4V478.5H1335.8z"/>
<path fill="#171717" d="M1145.9 709.2H1160.5V720.8H1145.9zM1321.2 651.5H1335.8V663.1H1321.2zM1511.1 651.5H1525.7V663.1H1511.1zM941.3 640.0H955.9V651.5H941.3zM1058.2 628.5H1072.8V640.0H1058.2zM1365.0 628.5H1379.6V640.0H1365.0zM1248.1 616.9H1262.7V628.5H1248.1zM1365.0 616.9H1394.2V628.5H1365.0zM1394.2 605.4H1408.8V616.9H1394.2zM1423.4 605.4H1438.0V616.9H1423.4zM1511.1 605.4H1525.7V616.9H1511.1zM999.8 593.8H1014.4V605.4H999.8zM1145.9 559.2H1160.5V570.8H1145.9zM1511.1 536.1H1525.7V547.7H1511.1zM955.9 524.6H970.6V536.1H955.9zM999.8 524.6H1014.4V536.1H999.8zM1175.1 501.5H1189.7V513.1H1175.1zM1554.9 490.0H1569.5V501.5H1554.9zM1306.6 432.3H1321.2V443.8H1306.6z"/>
<path fill="#181818" d="M1145.9 697.7H1160.5V709.2H1145.9zM1335.8 663.1H1350.4V674.6H1335.8zM926.7 651.5H941.3V663.1H926.7zM1277.3 651.5H1291.9V663.1H1277.3zM1350.4 640.0H1365.0V651.5H1350.4zM1496.5 640.0H1511.1V651.5H1496.5zM1379.6 628.5H1394.2V640.0H1379.6zM941.3 616.9H955.9V628.5H941.3zM1145.9 547.7H1160.5V559.2H1145.9zM1452.6 536.1H1467.3V547.7H1452.6zM853.7 524.6H868.3V536.1H853.7zM1058.2 524.6H1072.8V536.1H1058.2zM1438.0 524.6H1452.6V536.1H1438.0zM1175.1 513.1H1189.7V524.6H1175.1zM1204.3 501.5H1218.9V513.1H1204.3zM1379.6 432.3H1394.2V443.8H1379.6zM1335.8 386.2H1365.0V397.7H1335.8z"/>
<path fill="#191919" d="M1029.0 663.1H1043.6V674.6H1029.0zM1335.8 651.5H1350.4V663.1H1335.8zM1408.8 651.5H1423.4V663.1H1408.8zM1525.7 651.5H1540.3V663.1H1525.7zM1248.1 628.5H1262.7V640.0H1248.1zM1496.5 616.9H1511.1V628.5H1496.5zM926.7 605.4H941.3V616.9H926.7zM1277.3 605.4H1291.9V616.9H1277.3zM1321.2 605.4H1335.8V616.9H1321.2zM1335.8 593.8H1350.4V605.4H1335.8zM1496.5 536.1H1511.1V547.7H1496.5zM845.6 524.6H853.7V536.1H845.6zM1131.3 524.6H1145.9V536.1H1131.3zM1554.9 524.6H1577.0V536.1H1554.9zM1204.3 513.1H1218.9V524.6H1204.3zM868.3 501.5H882.9V513.1H868.3zM970.6 490.0H999.8V501.5H970.6zM1540.3 490.0H1554.9V501.5H1540.3zM1321.2 397.7H1335.8V409.2H1321.2zM1365.0 397.7H1379.6V409.2H1365.0z"/>
<path fill="#1a1a1a" d="M941.3 628.5H955.9V640.0H941.3zM1496.5 628.5H1511.1V640.0H1496.5zM1335.8 605.4H1350.4V616.9H1335.8zM1408.8 605.4H1423.4V616.9H1408.8zM1525.7 605.4H1540.3V616.9H1525.7zM1306.6 547.7H1321.2V559.2H1306.6zM868.3 513.1H882.9V524.6H868.3zM955.9 501.5H970.6V513.1H955.9zM999.8 501.5H1014.4V513.1H999.8zM1072.8 501.5H1087.4V513.1H1072.8zM1116.6 501.5H1131.3V513.1H1116.6zM1189.7 490.0H1204.3V501.5H1189.7zM1233.5 490.0H1248.1V501.5H1233.5zM1321.2 455.4H1335.8V466.9H1321.2zM1365.0 455.4H1379.6V466.9H1365.0z"/>
<path fill="#1b1b1b" d="M1014.4 663.1H1029.0V674.6H1014.4zM1204.3 663.1H1218.9V674.6H1204.3zM1540.3 651.5H1569.5V663.1H1540.3zM985.2 640.0H999.8V651.5H985.2zM1043.6 640.0H1058.2V651.5H1043.6zM1029.0 593.8H1043.6V605.4H1029.0zM1306.6 582.3H1321.2V593.8H1306.6zM1102.0 559.2H1116.6V570.8H1102.0zM1379.6 547.7H1394.2V559.2H1379.6zM1248.1 536.1H1262.7V547.7H1248.1zM1467.3 536.1H1496.5V547.7H1467.3zM1540.3 524.6H1554.9V536.1H1540.3zM955.9 513.1H970.6V524.6H955.9zM999.8 513.1H1014.4V524.6H999.8zM1072.8 513.1H1087.4V524.6H1072.8zM1116.6 513.1H1131.3V524.6H1116.6zM1058.2 501.5H1072.8V513.1H1058.2z"/>
<path fill="#1c1c1c" d="M1102.0 709.2H1116.6V720.8H1102.0zM1102.0 697.7H1116.6V709.2H1102.0zM845.6 651.5H882.9V663.1H845.6zM912.1 651.5H926.7V663.1H912.1zM1189.7 651.5H1204.3V663.1H1189.7zM1569.5 651.5H1577.0V663.1H1569.5zM1394.2 640.0H1408.8V651.5H1394.2zM1423.4 640.0H1438.0V651.5H1423.4zM985.2 616.9H999.8V628.5H985.2zM1043.6 616.9H1058.2V628.5H1043.6zM1423.4 616.9H1438.0V628.5H1423.4zM1540.3 605.4H1569.5V616.9H1540.3zM1379.6 582.3H1394.2V593.8H1379.6zM970.6 524.6H999.8V536.1H970.6zM1189.7 524.6H1204.3V536.1H1189.7zM1233.5 524.6H1248.1V536.1H1233.5zM853.7 513.1H868.3V524.6H853.7zM1058.2 513.1H1072.8V524.6H1058.2zM845.6 501.5H868.3V513.1H845.6zM1438.0 501.5H1452.6V513.1H1438.0zM1569.5 501.5H1577.0V513.1H1569.5zM1525.7 490.0H1540.3V501.5H1525.7zM1291.9 478.5H1306.6V490.0H1291.9zM1350.4 397.7H1365.0V409.2H1350.4z"/>
<path fill="#1d1d1d" d="M882.9 651.5H912.1V663.1H882.9zM1262.7 651.5H1277.3V663.1H1262.7zM1511.1 640.0H1525.7V651.5H1511.1zM845.6 605.4H882.9V616.9H845.6zM912.1 605.4H926.7V616.9H912.1zM1189.7 605.4H1204.3V616.9H1189.7zM1569.5 605.4H1577.0V616.9H1569.5zM1014.4 593.8H1029.0V605.4H1014.4zM1204.3 593.8H1218.9V605.4H1204.3zM1306.6 570.8H1321.2V582.3H1306.6zM1131.3 559.2H1145.9V570.8H1131.3zM1102.0 547.7H1116.6V559.2H1102.0zM845.6 513.1H853.7V524.6H845.6zM1438.0 513.1H1452.6V524.6H1438.0zM1569.5 513.1H1577.0V524.6H1569.5zM1554.9 501.5H1569.5V513.1H1554.9zM1408.8 490.0H1423.4V501.5H1408.8zM1335.8 397.7H1350.4V409.2H1335.8z"/>
<path fill="#1e1e1e" d="M1131.3 709.2H1145.9V720.8H1131.3zM1131.3 697.7H1145.9V709.2H1131.3zM985.2 628.5H999.8V640.0H985.2zM1043.6 628.5H1058.2V640.0H1043.6zM1423.4 628.5H1438.0V640.0H1423.4zM1394.2 616.9H1408.8V628.5H1394.2zM1511.1 616.9H1525.7V628.5H1511.1zM882.9 605.4H912.1V616.9H882.9zM1262.7 605.4H1277.3V616.9H1262.7zM1379.6 570.8H1394.2V582.3H1379.6zM1554.9 513.1H1569.5V524.6H1554.9zM1335.8 455.4H1365.0V466.9H1335.8zM1306.6 443.8H1321.2V455.4H1306.6z"/>
<path fill="#1f1f1f" d="M1116.6 709.2H1131.3V720.8H1116.6zM1087.4 674.6H1102.0V686.1H1087.4zM926.7 640.0H941.3V651.5H926.7zM1277.3 640.0H1291.9V651.5H1277.3zM1321.2 640.0H1335.8V651.5H1321.2zM1116.6 559.2H1131.3V570.8H1116.6zM1131.3 547.7H1145.9V559.2H1131.3zM1525.7 524.6H1540.3V536.1H1525.7zM1131.3 501.5H1145.9V513.1H1131.3zM1262.7 490.0H1277.3V501.5H1262.7zM1379.6 443.8H1394.2V455.4H1379.6z"/>
<path fill="#202020" d="M1116.6 697.7H1131.3V709.2H1116.6zM1408.8 640.0H1423.4V651.5H1408.8zM1525.7 640.0H1540.3V651.5H1525.7zM1394.2 628.5H1408.8V640.0H1394.2zM1511.1 628.5H1525.7V640.0H1511.1zM926.7 616.9H941.3V628.5H926.7zM1277.3 616.9H1291.9V628.5H1277.3zM1408.8 616.9H1423.4V628.5H1408.8zM1408.8 524.6H1423.4V536.1H1408.8zM1131.3 513.1H1145.9V524.6H1131.3zM970.6 501.5H999.8V513.1H970.6zM1540.3 501.5H1554.9V513.1H1540.3zM1511.1 490.0H1525.7V501.5H1511.1zM1365.0 432.3H1379.6V443.8H1365.0z"/>
<path fill="#212121" d="M1218.9 651.5H1233.5V663.1H1218.9zM1335.8 640.0H1350.4V651.5H1335.8zM1350.4 616.9H1365.0V628.5H1350.4zM1525.7 616.9H1540.3V628.5H1525.7zM1116.6 547.7H1131.3V559.2H1116.6zM970.6 513.1H999.8V524.6H970.6zM1540.3 513.1H1554.9V524.6H1540.3zM1189.7 501.5H1204.3V513.1H1189.7zM1233.5 501.5H1248.1V513.1H1233.5zM1452.6 490.0H1467.3V501.5H1452.6zM1321.2 432.3H1335.8V443.8H1321.2z"/>
<path fill="#222222" d="M1540.3 640.0H1554.9V651.5H1540.3zM926.7 628.5H941.3V640.0H926.7zM1277.3 628.5H1291.9V640.0H1277.3zM1350.4 628.5H1365.0V640.0H1350.4zM1218.9 605.4H1233.5V616.9H1218.9zM1262.7 524.6H1277.3V536.1H1262.7zM1189.7 513.1H1204.3V524.6H1189.7zM1233.5 513.1H1248.1V524.6H1233.5z"/>
<path fill="#232323" d="M1145.9 674.6H1160.5V686.1H1145.9zM999.8 651.5H1014.4V663.1H999.8zM845.6 640.0H853.7V651.5H845.6zM912.1 640.0H926.7V651.5H912.1zM1554.9 640.0H1577.0V651.5H1554.9zM1408.8 628.5H1423.4V640.0H1408.8zM1525.7 628.5H1540.3V640.0H1525.7zM1540.3 616.9H1554.9V628.5H1540.3zM1087.4 582.3H1102.0V593.8H1087.4zM1365.0 547.7H1379.6V559.2H1365.0zM1291.9 536.1H1306.6V547.7H1291.9zM1511.1 524.6H1525.7V536.1H1511.1zM1496.5 490.0H1511.1V501.5H1496.5z"/>
<path fill="#242424" d="M853.7 640.0H882.9V651.5H853.7zM1189.7 640.0H1204.3V651.5H1189.7zM845.6 616.9H868.3V628.5H845.6zM912.1 616.9H926.7V628.5H912.1zM1554.9 616.9H1577.0V628.5H1554.9zM999.8 605.4H1014.4V616.9H999.8zM1321.2 547.7H1335.8V559.2H1321.2zM1525.7 501.5H1540.3V513.1H1525.7z"/>
<path fill="#252525" d="M882.9 640.0H912.1V651.5H882.9zM1262.7 640.0H1277.3V651.5H1262.7zM1540.3 628.5H1554.9V640.0H1540.3zM868.3 616.9H882.9V628.5H868.3zM1189.7 616.9H1204.3V628.5H1189.7zM1321.2 616.9H1335.8V628.5H1321.2zM1365.0 582.3H1379.6V593.8H1365.0zM1452.6 524.6H1467.3V536.1H1452.6zM1525.7 513.1H1540.3V524.6H1525.7zM1408.8 501.5H1423.4V513.1H1408.8zM1394.2 478.5H1408.8V490.0H1394.2zM1335.8 432.3H1365.0V443.8H1335.8z"/>
<path fill="#262626" d="M1554.9 628.5H1569.5V640.0H1554.9zM882.9 616.9H912.1V628.5H882.9zM1262.7 616.9H1277.3V628.5H1262.7zM1321.2 582.3H1335.8V593.8H1321.2zM1408.8 513.1H1423.4V524.6H1408.8zM1248.1 490.0H1262.7V501.5H1248.1zM1467.3 490.0H1496.5V501.5H1467.3z"/>
<path fill="#272727" d="M845.6 628.5H868.3V640.0H845.6zM912.1 628.5H926.7V640.0H912.1zM1321.2 628.5H1335.8V640.0H1321.2zM1569.5 628.5H1577.0V640.0H1569.5zM1145.9 582.3H1160.5V593.8H1145.9zM1496.5 524.6H1511.1V536.1H1496.5zM1262.7 501.5H1277.3V513.1H1262.7z"/>
<path fill="#282828" d="M1029.0 651.5H1043.6V663.1H1029.0zM868.3 628.5H912.1V640.0H868.3zM1189.7 628.5H1204.3V640.0H1189.7zM1262.7 628.5H1277.3V640.0H1262.7zM1321.2 570.8H1335.8V582.3H1321.2zM1365.0 570.8H1379.6V582.3H1365.0zM1262.7 513.1H1277.3V524.6H1262.7zM1511.1 501.5H1525.7V513.1H1511.1z"/>
<path fill="#292929" d="M1072.8 663.1H1087.4V674.6H1072.8zM1335.8 616.9H1350.4V628.5H1335.8zM1029.0 605.4H1043.6V616.9H1029.0zM1335.8 547.7H1365.0V559.2H1335.8zM1365.0 443.8H1379.6V455.4H1365.0z"/>
<path fill="#2a2a2a" d="M1102.0 674.6H1116.6V686.1H1102.0zM1218.9 640.0H1233.5V651.5H1218.9zM1335.8 628.5H1350.4V640.0H1335.8zM1248.1 524.6H1262.7V536.1H1248.1zM1467.3 524.6H1496.5V536.1H1467.3zM1511.1 513.1H1525.7V524.6H1511.1zM1321.2 443.8H1335.8V455.4H1321.2z"/>
<path fill="#2b2b2b" d="M1014.4 651.5H1029.0V663.1H1014.4zM1204.3 651.5H1218.9V663.1H1204.3zM1218.9 616.9H1233.5V628.5H1218.9zM1335.8 582.3H1365.0V593.8H1335.8zM1452.6 501.5H1467.3V513.1H1452.6z"/>
<path fill="#2c2c2c" d="M1014.4 605.4H1029.0V616.9H1014.4zM1072.8 593.8H1087.4V605.4H1072.8zM1452.6 513.1H1467.3V524.6H1452.6z"/>
<path fill="#2d2d2d" d="M1131.3 674.6H1145.9V686.1H1131.3zM999.8 640.0H1014.4V651.5H999.8zM999.8 616.9H1014.4V628.5H999.8zM1204.3 605.4H1218.9V616.9H1204.3zM1496.5 501.5H1511.1V513.1H1496.5z"/>
<path fill="#2e2e2e" d="M1218.9 628.5H1233.5V640.0H1218.9zM1335.8 570.8H1365.0V582.3H1335.8zM1394.2 536.1H1408.8V547.7H1394.2z"/>
<path fill="#2f2f2f" d="M1116.6 674.6H1131.3V686.1H1116.6zM1160.5 663.1H1175.1V674.6H1160.5zM1102.0 582.3H1116.6V593.8H1102.0zM1496.5 513.1H1511.1V524.6H1496.5z"/>
<path fill="#303030" d="M999.8 628.5H1014.4V640.0H999.8zM1335.8 443.8H1365.0V455.4H1335.8z"/>
<path fill="#313131" d="M1248.1 501.5H1262.7V513.1H1248.1zM1467.3 501.5H1496.5V513.1H1467.3zM1291.9 490.0H1306.6V501.5H1291.9z"/>
<path fill="#323232" d="M1160.5 593.8H1175.1V605.4H1160.5zM1248.1 513.1H1262.7V524.6H1248.1zM1467.3 513.1H1496.5V524.6H1467.3z"/>
<path fill="#333333" d="M1029.0 640.0H1043.6V651.5H1029.0zM1131.3 582.3H1145.9V593.8H1131.3z"/>
<path fill="#343434" d="M1029.0 616.9H1043.6V628.5H1029.0z"/>
<path fill="#363636" d="M1116.6 582.3H1131.3V593.8H1116.6zM1291.9 524.6H1306.6V536.1H1291.9z"/>
<path fill="#373737" d="M1014.4 640.0H1029.0V651.5H1014.4zM1204.3 640.0H1218.9V651.5H1204.3zM1029.0 628.5H1043.6V640.0H1029.0z"/>
<path fill="#383838" d="M1014.4 616.9H1029.0V628.5H1014.4zM1204.3 616.9H1218.9V628.5H1204.3z"/>
<path fill="#393939" d="M1306.6 478.5H1321.2V490.0H1306.6z"/>
<path fill="#3b3b3b" d="M1379.6 478.5H1394.2V490.0H1379.6z"/>
<path fill="#3c3c3c" d="M1014.4 628.5H1029.0V640.0H1014.4zM1204.3 628.5H1218.9V640.0H1204.3z"/>
<path fill="#3e3e3e" d="M1291.9 501.5H1306.6V513.1H1291.9z"/>
<path fill="#404040" d="M1291.9 513.1H1306.6V524.6H1291.9z"/>
<path fill="#414141" d="M1072.8 651.5H1087.4V663.1H1072.8zM1394.2 490.0H1408.8V501.5H1394.2z"/>
<path fill="#444444" d="M1072.8 605.4H1087.4V616.9H1072.8z"/>
<path fill="#464646" d="M1306.6 536.1H1321.2V547.7H1306.6z"/>
<path fill="#484848" d="M1394.2 524.6H1408.8V536.1H1394.2z"/>
<path fill="#4a4a4a" d="M1087.4 663.1H1102.0V674.6H1087.4zM1379.6 536.1H1394.2V547.7H1379.6z"/>
<path fill="#4c4c4c" d="M1160.5 651.5H1175.1V663.1H1160.5z"/>
<path fill="#4f4f4f" d="M1160.5 605.4H1175.1V616.9H1160.5zM1087.4 593.8H1102.0V605.4H1087.4zM1365.0 478.5H1379.6V490.0H1365.0z"/>
<path fill="#515151" d="M1321.2 478.5H1335.8V490.0H1321.2z"/>
<path fill="#545454" d="M1145.9 663.1H1160.5V674.6H1145.9z"/>
<path fill="#555555" d="M1394.2 501.5H1408.8V513.1H1394.2z"/>
<path fill="#565656" d="M1072.8 640.0H1087.4V651.5H1072.8z"/>
<path fill="#575757" d="M1072.8 616.9H1087.4V628.5H1072.8z"/>
<path fill="#585858" d="M1394.2 513.1H1408.8V524.6H1394.2z"/>
<path fill="#5a5a5a" d="M1145.9 593.8H1160.5V605.4H1145.9z"/>
<path fill="#5d5d5d" d="M1350.4 478.5H1365.0V490.0H1350.4z"/>
<path fill="#5e5e5e" d="M1072.8 628.5H1087.4V640.0H1072.8zM1335.8 478.5H1350.4V490.0H1335.8z"/>
<path fill="#636363" d="M1160.5 640.0H1175.1V651.5H1160.5z"/>
<path fill="#646464" d="M1365.0 536.1H1379.6V547.7H1365.0z"/>
<path fill="#656565" d="M1160.5 616.9H1175.1V628.5H1160.5z"/>
<path fill="#666666" d="M1321.2 536.1H1335.8V547.7H1321.2zM1306.6 490.0H1321.2V501.5H1306.6z"/>
<path fill="#686868" d="M1102.0 663.1H1116.6V674.6H1102.0z"/>
<path fill="#6b6b6b" d="M1379.6 490.0H1394.2V501.5H1379.6z"/>
<path fill="#6d6d6d" d="M1160.5 628.5H1175.1V640.0H1160.5z"/>
<path fill="#6f6f6f" d="M1131.3 663.1H1145.9V674.6H1131.3zM1102.0 593.8H1116.6V605.4H1102.0z"/>
<path fill="#717171" d="M1306.6 524.6H1321.2V536.1H1306.6z"/>
<path fill="#747474" d="M1350.4 536.1H1365.0V547.7H1350.4z"/>
<path fill="#757575" d="M1116.6 663.1H1131.3V674.6H1116.6zM1335.8 536.1H1350.4V547.7H1335.8z"/>
<path fill="#767676" d="M1131.3 593.8H1145.9V605.4H1131.3zM1379.6 524.6H1394.2V536.1H1379.6z"/>
<path fill="#7a7a7a" d="M1087.4 651.5H1102.0V663.1H1087.4z"/>
<path fill="#7d7d7d" d="M1116.6 593.8H1131.3V605.4H1116.6z"/>
<path fill="#7e7e7e" d="M1087.4 605.4H1102.0V616.9H1087.4z"/>
<path fill="#828282" d="M1306.6 501.5H1321.2V513.1H1306.6z"/>
<path fill="#868686" d="M1306.6 513.1H1321.2V524.6H1306.6z"/>
<path fill="#888888" d="M1145.9 651.5H1160.5V663.1H1145.9zM1379.6 501.5H1394.2V513.1H1379.6z"/>
<path fill="#8b8b8b" d="M1379.6 513.1H1394.2V524.6H1379.6z"/>
<path fill="#8c8c8c" d="M1365.0 490.0H1379.6V501.5H1365.0z"/>
<path fill="#8d8d8d" d="M1145.9 605.4H1160.5V616.9H1145.9z"/>
<path fill="#8e8e8e" d="M1321.2 490.0H1335.8V501.5H1321.2z"/>
<path fill="#999999" d="M1365.0 524.6H1379.6V536.1H1365.0z"/>
<path fill="#9a9a9a" d="M1087.4 640.0H1102.0V651.5H1087.4z"/>
<path fill="#9c9c9c" d="M1087.4 616.9H1102.0V628.5H1087.4zM1321.2 524.6H1335.8V536.1H1321.2z"/>
<path fill="#a0a0a0" d="M1350.4 490.0H1365.0V501.5H1350.4z"/>
<path fill="#a1a1a1" d="M1335.8 490.0H1350.4V501.5H1335.8z"/>
<path fill="#a2a2a2" d="M1102.0 651.5H1116.6V663.1H1102.0z"/>
<path fill="#a6a6a6" d="M1087.4 628.5H1102.0V640.0H1087.4z"/>
<path fill="#a8a8a8" d="M1102.0 605.4H1116.6V616.9H1102.0z"/>
<path fill="#ababab" d="M1145.9 640.0H1160.5V651.5H1145.9z"/>
<path fill="#acacac" d="M1131.3 651.5H1145.9V663.1H1131.3z"/>
<path fill="#aeaeae" d="M1145.9 616.9H1160.5V628.5H1145.9z"/>
<path fill="#afafaf" d="M1350.4 524.6H1365.0V536.1H1350.4z"/>
<path fill="#b0b0b0" d="M1365.0 501.5H1379.6V513.1H1365.0z"/>
<path fill="#b1b1b1" d="M1335.8 524.6H1350.4V536.1H1335.8z"/>
<path fill="#b2b2b2" d="M1131.3 605.4H1145.9V616.9H1131.3zM1321.2 501.5H1335.8V513.1H1321.2z"/>
<path fill="#b5b5b5" d="M1116.6 651.5H1131.3V663.1H1116.6zM1365.0 513.1H1379.6V524.6H1365.0z"/>
<path fill="#b7b7b7" d="M1321.2 513.1H1335.8V524.6H1321.2z"/>
<path fill="#b9b9b9" d="M1145.9 628.5H1160.5V640.0H1145.9z"/>
<path fill="#bcbcbc" d="M1116.6 605.4H1131.3V616.9H1116.6z"/>
<path fill="#c9c9c9" d="M1350.4 501.5H1365.0V513.1H1350.4z"/>
<path fill="#cbcbcb" d="M1335.8 501.5H1350.4V513.1H1335.8z"/>
<path fill="#cdcdcd" d="M1102.0 640.0H1116.6V651.5H1102.0z"/>
<path fill="#cecece" d="M1350.4 513.1H1365.0V524.6H1350.4z"/>
<path fill="#d0d0d0" d="M1102.0 616.9H1116.6V628.5H1102.0z"/>
<path fill="#d1d1d1" d="M1335.8 513.1H1350.4V524.6H1335.8z"/>
<path fill="#d9d9d9" d="M1131.3 640.0H1145.9V651.5H1131.3z"/>
<path fill="#dddddd" d="M1102.0 628.5H1116.6V640.0H1102.0zM1131.3 616.9H1145.9V628.5H1131.3z"/>
<path fill="#e5e5e5" d="M1116.6 640.0H1131.3V651.5H1116.6z"/>
<path fill="#e8e8e8" d="M1116.6 616.9H1131.3V628.5H1116.6z"/>
<path fill="#ebebeb" d="M1131.3 628.5H1145.9V640.0H1131.3z"/>
<path fill="#f7f7f7" d="M1116.6 628.5H1131.3V640.0H1116.6z"/>
</g>
<path d="M1122.1 628.6L1131.5 637.9M1122.1 637.9L1131.5 628.6" stroke="#d95319" stroke-width="4.0" fill="none"/>
<path d="M1344.0 510.5L1353.4 519.8M1344.0 519.8L1353.4 510.5" stroke="#d95319" stroke-width="4.0" fill="none"/>
<circle cx="1119.7" cy="638.4" r="6.9" fill="none" stroke="#8a1fd6" stroke-width="4.1"/>
<circle cx="1351.5" cy="510.4" r="6.9" fill="none" stroke="#8a1fd6" stroke-width="4.1"/>
<text class="tk" x="836.5" y="207.1" text-anchor="end">80</text>
<text class="tk" x="836.5" y="344.6" text-anchor="end">60</text>
<text class="tk" x="836.5" y="482.2" text-anchor="end">40</text>
<text class="tk" x="836.5" y="619.7" text-anchor="end">20</text>
<text class="tk" x="836.5" y="757.2" text-anchor="end">0</text>
<text class="tk" x="836.5" y="894.7" text-anchor="end">-20</text>
<text class="tk" x="886.5" y="917.6" text-anchor="middle">-80</text>
<text class="tk" x="967.6" y="917.6" text-anchor="middle">-60</text>
<text class="tk" x="1048.8" y="917.6" text-anchor="middle">-40</text>
<text class="tk" x="1129.9" y="917.6" text-anchor="middle">-20</text>
<text class="tk" x="1211.6" y="917.6" text-anchor="middle">0</text>
<text class="tk" x="1292.8" y="917.6" text-anchor="middle">20</text>
<text class="tk" x="1373.9" y="917.6" text-anchor="middle">40</text>
<text class="tk" x="1455.1" y="917.6" text-anchor="middle">60</text>
<text class="tk" x="1536.2" y="917.6" text-anchor="middle">80</text>
<text class="lb" x="1212" y="947.4" text-anchor="middle">AoA (degrees)</text>
<text class="lb" transform="translate(789.5 477.5) rotate(-90)" text-anchor="middle">Bistatic Range (m)</text>
<text class="tt" x="1212" y="58.0" text-anchor="middle">CFAR Results</text>
<rect x="469.6" y="971.9" width="731.6" height="77.7" fill="#ffffff" stroke="#555555" stroke-width="1.3"/>
<circle cx="511.5" cy="987.4" r="7.6" fill="#35a835"/>
<text class="lg" x="551.8" y="993.6">gNB</text>
<line x1="476" y1="1011.0" x2="546" y2="1011.0" stroke="#d95319" stroke-width="2" stroke-dasharray="2.1 5"/>
<text class="lg" x="551.8" y="1017.8">Trajectories</text>
<line x1="476.7" y1="1035.0" x2="546.2" y2="1035.0" stroke="#262626" stroke-width="4"/>
<text class="lg" x="551.8" y="1042.0">(history)</text>
<polygon points="701.5,981.9 719.5,981.9 710.5,997.5" fill="#edb120"/>
<text class="lg" x="750.4" y="993.6">UE</text>
<circle cx="710.5" cy="1011.4" r="5.9" fill="none" stroke="#8624d8" stroke-width="1.4"/>
<text class="lg" x="750.4" y="1017.8">Detections</text>
<circle cx="899.3" cy="987.4" r="2.6" fill="#0072bd"/>
<text class="lg" x="940.4" y="993.6">Scatterers</text>
<circle cx="899.3" cy="1011.4" r="3.9" fill="none" stroke="#dcb6f5" stroke-width="1.1"/>
<text class="lg" x="940.4" y="1017.8">(history)</text>
<path d="M1080.0 982.1L1090.5 992.6M1080.0 992.6L1090.5 982.1" stroke="#d95319" stroke-width="1.4" fill="none"/>
<text class="lg" x="1125.6" y="993.6">Targets</text>
<rect x="1077.2" y="1003.2" width="16.6" height="16.6" fill="none" stroke="#262626" stroke-width="1.1"/>
<text class="lg" x="1125.6" y="1017.8">Tracks</text>
</svg></body></html>
